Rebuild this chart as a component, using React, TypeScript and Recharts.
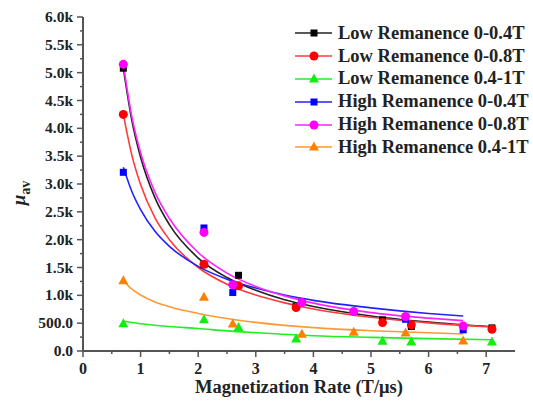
import React from 'react';
import { ComposedChart, Line, Scatter, XAxis, YAxis } from 'recharts';

// measured points
const lowRem04 = [
  { x: 0.7, y: 5080 }, { x: 2.1, y: 1550 }, { x: 2.7, y: 1360 }, { x: 3.7, y: 800 },
  { x: 5.2, y: 560 }, { x: 5.7, y: 440 }, { x: 7.1, y: 415 },
];
const lowRem08 = [
  { x: 0.7, y: 4250 }, { x: 2.1, y: 1560 }, { x: 2.7, y: 1170 }, { x: 3.7, y: 780 },
  { x: 5.2, y: 510 }, { x: 5.7, y: 470 }, { x: 7.1, y: 390 },
];
const lowRem41 = [
  { x: 0.7, y: 490 }, { x: 2.1, y: 560 }, { x: 2.7, y: 420 }, { x: 3.7, y: 215 },
  { x: 5.2, y: 175 }, { x: 5.7, y: 160 }, { x: 7.1, y: 160 },
];
const highRem04 = [
  { x: 0.7, y: 3210 }, { x: 2.1, y: 2210 }, { x: 2.6, y: 1050 }, { x: 3.8, y: 880 },
  { x: 5.6, y: 570 }, { x: 6.6, y: 380 },
];
const highRem08 = [
  { x: 0.7, y: 5150 }, { x: 2.1, y: 2130 }, { x: 2.6, y: 1190 }, { x: 3.8, y: 870 },
  { x: 4.7, y: 710 }, { x: 5.6, y: 620 }, { x: 6.6, y: 450 },
];
const highRem41 = [
  { x: 0.7, y: 1260 }, { x: 2.1, y: 965 }, { x: 2.6, y: 485 }, { x: 3.8, y: 300 },
  { x: 4.7, y: 335 }, { x: 5.6, y: 325 }, { x: 6.6, y: 180 },
];

// fitted curves
const lowRem04Fit = [
  { x: 0.7, y: 5080 }, { x: 0.85, y: 4130 }, { x: 1, y: 3480 }, { x: 1.25, y: 2750 },
  { x: 1.5, y: 2270 }, { x: 2, y: 1670 }, { x: 2.5, y: 1320 }, { x: 3, y: 1090 },
  { x: 3.5, y: 920 }, { x: 4, y: 800 }, { x: 5, y: 630 }, { x: 6, y: 520 }, { x: 7.1, y: 435 },
];
const lowRem08Fit = [
  { x: 0.7, y: 4250 }, { x: 0.85, y: 3510 }, { x: 1, y: 2990 }, { x: 1.25, y: 2390 },
  { x: 1.5, y: 2000 }, { x: 2, y: 1500 }, { x: 2.5, y: 1200 }, { x: 3, y: 1005 },
  { x: 3.5, y: 865 }, { x: 4, y: 755 }, { x: 5, y: 605 }, { x: 6, y: 505 }, { x: 7.1, y: 430 },
];
const lowRem41Fit = [
  { x: 0.7, y: 535 }, { x: 1, y: 490 }, { x: 1.5, y: 440 }, { x: 2, y: 405 },
  { x: 2.5, y: 362 }, { x: 3, y: 330 }, { x: 4, y: 275 }, { x: 5, y: 245 },
  { x: 6, y: 222 }, { x: 7.1, y: 203 },
];
const highRem04Fit = [
  { x: 0.7, y: 3300 }, { x: 0.85, y: 2860 }, { x: 1, y: 2540 }, { x: 1.25, y: 2150 },
  { x: 1.5, y: 1880 }, { x: 2, y: 1520 }, { x: 2.5, y: 1290 }, { x: 3, y: 1130 },
  { x: 3.5, y: 1005 }, { x: 4, y: 910 }, { x: 5, y: 775 }, { x: 6, y: 675 }, { x: 6.6, y: 630 },
];
const highRem08Fit = [
  { x: 0.7, y: 5150 }, { x: 0.85, y: 4200 }, { x: 1, y: 3560 }, { x: 1.25, y: 2850 },
  { x: 1.5, y: 2380 }, { x: 2, y: 1770 }, { x: 2.5, y: 1400 }, { x: 3, y: 1160 },
  { x: 3.5, y: 990 }, { x: 4, y: 860 }, { x: 5, y: 690 }, { x: 6, y: 590 }, { x: 6.6, y: 545 },
];
const highRem41Fit = [
  { x: 0.7, y: 1265 }, { x: 0.85, y: 1110 }, { x: 1, y: 1005 }, { x: 1.25, y: 880 },
  { x: 1.5, y: 795 }, { x: 2, y: 675 }, { x: 2.5, y: 585 }, { x: 3, y: 515 },
  { x: 4, y: 420 }, { x: 5, y: 365 }, { x: 6, y: 328 }, { x: 6.6, y: 305 },
];

const xTicks = [0, 0.5, 1, 1.5, 2, 2.5, 3, 3.5, 4, 4.5, 5, 5.5, 6, 6.5, 7];
const yTicks = [0, 250, 500, 750, 1000, 1250, 1500, 1750, 2000, 2250, 2500, 2750, 3000,
  3250, 3500, 3750, 4000, 4250, 4500, 4750, 5000, 5250, 5500, 5750, 6000];

const FONT = '"Liberation Serif", "Times New Roman", serif';
const AXIS = '#555';

const series = [
  { name: 'Low Remanence 0-0.4T', pts: lowRem04, fit: lowRem04Fit, line: '#222222', mark: '#000000', shape: 'square' },
  { name: 'Low Remanence 0-0.8T', pts: lowRem08, fit: lowRem08Fit, line: '#ff3b3b', mark: '#ff0000', shape: 'circle' },
  { name: 'Low Remanence 0.4-1T', pts: lowRem41, fit: lowRem41Fit, line: '#22ee22', mark: '#11ee11', shape: 'triangle' },
  { name: 'High Remanence 0-0.4T', pts: highRem04, fit: highRem04Fit, line: '#2222ff', mark: '#0000ff', shape: 'square' },
  { name: 'High Remanence 0-0.8T', pts: highRem08, fit: highRem08Fit, line: '#ff22ff', mark: '#ff00ff', shape: 'circle' },
  { name: 'High Remanence 0.4-1T', pts: highRem41, fit: highRem41Fit, line: '#ff9933', mark: '#ff8000', shape: 'triangle' },
];

const Marker = ({ cx, cy, shape, color }: any) => {
  if (cx == null || cy == null) return null;
  if (shape === 'square') return <rect x={cx - 3.5} y={cy - 3.5} width={7} height={7} fill={color} />;
  if (shape === 'circle') return <circle cx={cx} cy={cy} r={4.5} fill={color} />;
  return <polygon points={`${cx},${cy - 5.5} ${cx + 5},${cy + 3.5} ${cx - 5},${cy + 3.5}`} fill={color} />;
};

const XTick = ({ x, y, payload }: any) => {
  const major = Number.isInteger(payload.value);
  return (
    <g>
      <line x1={x} x2={x} y1={y} y2={y + (major ? 6 : 3)} stroke={AXIS} strokeWidth={1.5} />
      {major && (
        <text x={x} y={y + 23} textAnchor="middle" fontFamily={FONT} fontWeight="bold" fontSize={16} fill="#222">
          {payload.value}
        </text>
      )}
    </g>
  );
};

const fmtY = (v: number) => (v === 0 ? '0.0' : v < 1000 ? v.toFixed(1) : (v / 1000).toFixed(1) + 'k');

const YTick = ({ x, y, payload }: any) => {
  const major = payload.value % 500 === 0;
  return (
    <g>
      <line x1={x - (major ? 6 : 3)} x2={x} y1={y} y2={y} stroke={AXIS} strokeWidth={1.5} />
      {major && (
        <text x={x - 10} y={y + 5} textAnchor="end" fontFamily={FONT} fontWeight="bold" fontSize={15.5} fill="#222">
          {fmtY(payload.value)}
        </text>
      )}
    </g>
  );
};

const LegendBox = () => (
  <div style={{ position: 'absolute', left: 292, top: 22, fontFamily: FONT, fontWeight: 'bold', fontSize: 18.5, color: '#222' }}>
    {series.map((s) => (
      <div key={s.name} style={{ display: 'flex', alignItems: 'center', height: 22.8 }}>
        <svg width={46} height={14}>
          <line x1={3} x2={40} y1={7} y2={7} stroke={s.line} strokeWidth={1.5} />
          <Marker cx={22} cy={7} shape={s.shape} color={s.mark} />
        </svg>
        <span style={{ whiteSpace: 'nowrap' }}>{s.name}</span>
      </div>
    ))}
  </div>
);

export default function App() {
  return (
    <div style={{ position: 'absolute', left: 0, top: 0, width: 533, height: 403, background: '#fff' }}>
      <ComposedChart width={533} height={403} margin={{ top: 17, right: 18, bottom: 12, left: 13 }}>
        <XAxis
          type="number"
          dataKey="x"
          domain={[0, 7.5]}
          ticks={xTicks}
          interval={0}
          tickSize={0}
          tickMargin={0}
          tick={<XTick />}
          height={40}
          stroke={AXIS}
          strokeWidth={2}
          allowDataOverflow
        />
        <YAxis
          type="number"
          dataKey="y"
          domain={[0, 6000]}
          ticks={yTicks}
          interval={0}
          tickSize={0}
          tickMargin={0}
          tick={<YTick />}
          width={70}
          stroke={AXIS}
          strokeWidth={2}
          allowDataOverflow
        />
        {series.map((s) => (
          <Line
            key={'fit-' + s.name}
            data={s.fit}
            dataKey="y"
            type="monotone"
            stroke={s.line}
            strokeWidth={1.6}
            dot={false}
            activeDot={false}
            legendType="none"
            isAnimationActive={false}
          />
        ))}
        {series.map((s) => (
          <Scatter
            key={'pts-' + s.name}
            name={s.name}
            data={s.pts}
            dataKey="y"
            shape={(p: any) => <Marker cx={p.cx} cy={p.cy} shape={s.shape} color={s.mark} />}
            isAnimationActive={false}
          />
        ))}
        <text x={299} y={393} textAnchor="middle" fontFamily={FONT} fontWeight="bold" fontSize={18.5} fill="#222">
          Magnetization Rate (T/μs)
        </text>
        <text transform="translate(25,193) rotate(-90)" textAnchor="middle" fontFamily={FONT} fontWeight="bold" fontSize={19} fill="#222">
          <tspan fontStyle="italic">μ</tspan>
          <tspan fontSize={14} dy={5}>av</tspan>
        </text>
      </ComposedChart>
      <LegendBox />
    </div>
  );
}
